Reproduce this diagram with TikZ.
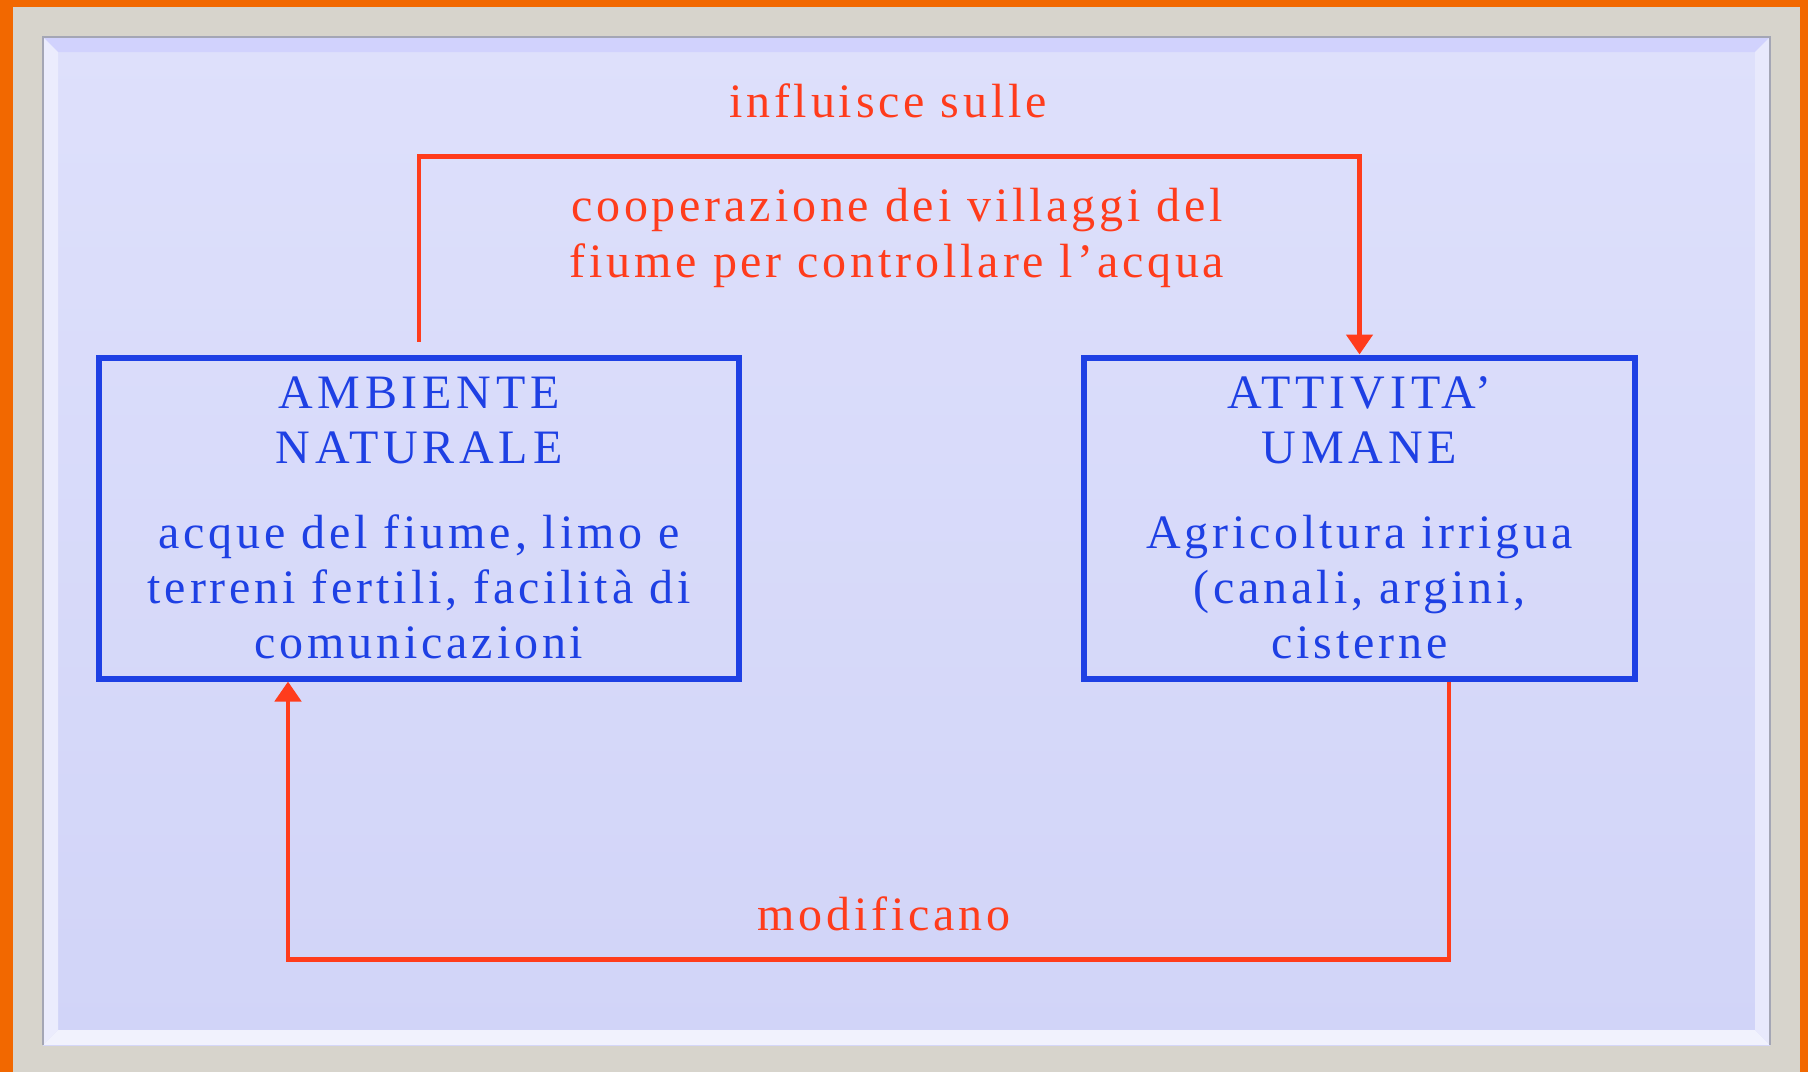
\documentclass[tikz,border=0pt]{standalone}
\usepackage{fontspec}
\setmainfont{Liberation Serif}
\newfontfamily\bodyfont[LetterSpace=8]{Liberation Serif}
\newfontfamily\headfont[LetterSpace=10]{Liberation Serif}
\usetikzlibrary{arrows.meta,positioning,calc}

\definecolor{frameorange}{HTML}{F26800}
\definecolor{framegray}{HTML}{D7D4CC}
\definecolor{paneltop}{HTML}{DEE0FB}
\definecolor{panelbot}{HTML}{D1D4F8}
\definecolor{boxblue}{HTML}{1E40E4}
\definecolor{linkred}{HTML}{FF3C1C}

\tikzset{
	box/.style={draw=boxblue,line width=3pt,text=boxblue,align=center,inner sep=0pt,minimum height=160.5pt,font=\bodyfont\fontsize{24}{27.5}\selectfont},
	link/.style={draw=linkred,line width=2.4pt,-{Triangle[width=13pt,length=10pt]}},
	lbl/.style={text=linkred,align=center,font=\bodyfont\fontsize{24}{28}\selectfont}
}

\begin{document}
\begin{tikzpicture}[x=0.5pt,y=-0.5pt]
	% frame and panel
	\fill[frameorange] (0,0) rectangle (1808,1072);
	\fill[framegray] (13,7) rectangle (1800,1072);
	\shade[top color=paneltop,bottom color=panelbot] (43,37) rectangle (1770,1045);
	\fill[color=paneltop!85!blue!70!white] (43,37) -- (1770,37) -- (1755,52) -- (58,52) -- cycle;
	\fill[color=paneltop!60!white] (43,37) -- (58,52) -- (58,1030) -- (43,1045) -- cycle;
	\fill[color=panelbot!30!white] (43,1045) -- (58,1030) -- (1755,1030) -- (1770,1045) -- cycle;
	\fill[color=paneltop!70!white] (1770,37) -- (1755,52) -- (1755,1030) -- (1770,1045) -- cycle;
	\draw[color=panelbot!60!black!70,line width=1.2pt] (43,1045) -- (43,37) -- (1770,37) -- (1770,1045);

	\node[box,minimum width=320pt] (ambiente) at (419,518) {\headfont AMBIENTE\\\headfont NATURALE\\[15pt]acque del fiume, limo e\\terreni fertili, facilità di\\comunicazioni};
	\node[box,minimum width=275.5pt] (attivita) at (1359.5,518) {\headfont ATTIVITA’\\\headfont UMANE\\[15pt]Agricoltura irrigua\\(canali, argini,\\cisterne};

	\node[lbl,anchor=base] (influisce) at (888,117) {influisce sulle};
	\node[lbl] (cooperazione) at (897,238) {cooperazione dei villaggi del\\fiume per controllare l’acqua};
	\node[lbl,anchor=base] (modificano) at (884,930) {modificano};

	\draw[link] ([yshift=6.5pt]ambiente.north) -- ++(0,-185) -| (attivita.north);
	\draw[link] ([xshift=44.75pt]attivita.south) -- ++(0,278) -| ([xshift=-65.5pt]ambiente.south);
\end{tikzpicture}
\end{document}
